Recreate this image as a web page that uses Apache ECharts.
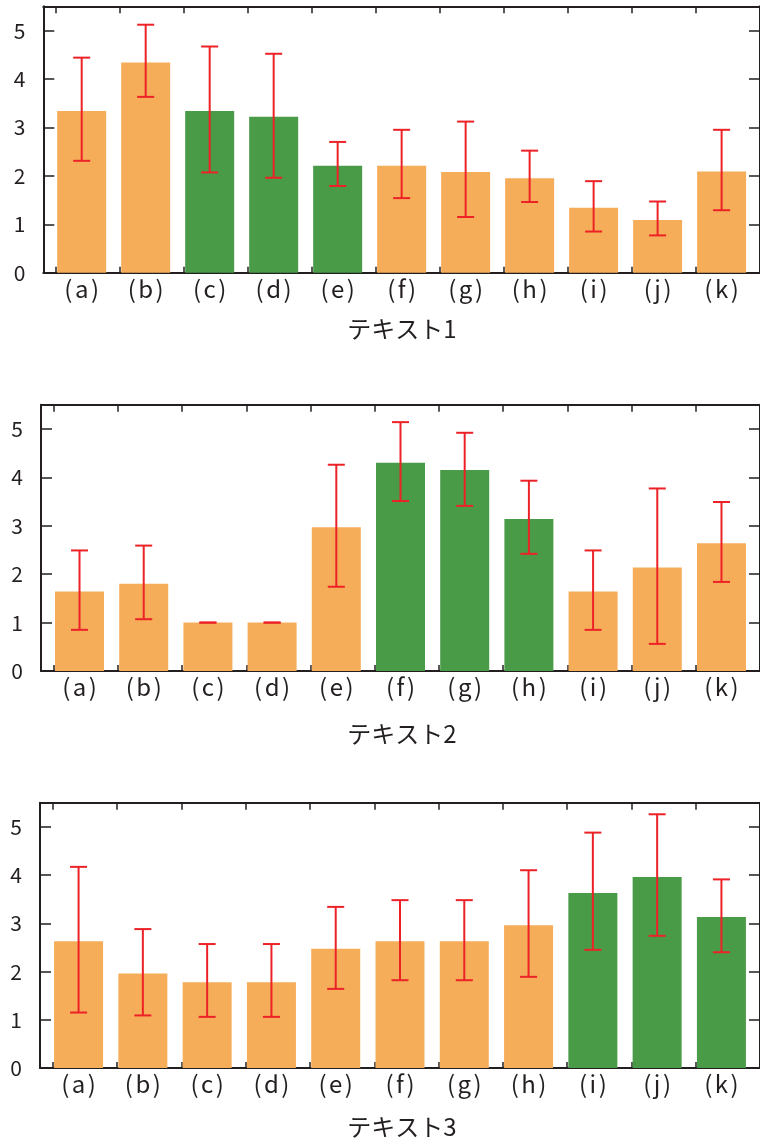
<!DOCTYPE html>
<html>
<head>
<meta charset="utf-8">
<script src="https://cdn.jsdelivr.net/npm/echarts@6/dist/echarts.min.js"></script>
<style>
  html, body { margin: 0; padding: 0; background: #ffffff; }
  #chart { width: 760px; height: 1144px; }
</style>
</head>
<body>
<div id="chart"></div>
<script>
// Categories and axis ticks
const categories = ['(a)', '(b)', '(c)', '(d)', '(e)', '(f)', '(g)', '(h)', '(i)', '(j)', '(k)'];
const yTickValues = [0, 1, 2, 3, 4, 5];
const panelTitles = ['テキスト1', 'テキスト2', 'テキスト3'];

// Panel 1: means, lower and upper error limits, highlighted (green) items
const mean1 = [3.34, 4.34, 3.34, 3.22, 2.21, 2.21, 2.08, 1.95, 1.34, 1.09, 2.09];
const low1  = [2.31, 3.63, 2.07, 1.96, 1.79, 1.54, 1.15, 1.46, 0.85, 0.77, 1.29];
const high1 = [4.44, 5.12, 4.67, 4.52, 2.70, 2.95, 3.12, 2.52, 1.89, 1.47, 2.95];
const green1 = [2, 3, 4];

// Panel 2
const mean2 = [1.64, 1.80, 1.00, 1.00, 2.97, 4.30, 4.15, 3.14, 1.64, 2.14, 2.64];
const low2  = [0.85, 1.07, 1.00, 1.00, 1.74, 3.51, 3.41, 2.42, 0.85, 0.56, 1.84];
const high2 = [2.49, 2.59, 1.00, 1.00, 4.26, 5.14, 4.92, 3.93, 2.49, 3.77, 3.49];
const green2 = [5, 6, 7];

// Panel 3
const mean3 = [2.63, 1.96, 1.78, 1.78, 2.47, 2.63, 2.63, 2.96, 3.63, 3.96, 3.13];
const low3  = [1.15, 1.09, 1.06, 1.06, 1.64, 1.82, 1.82, 1.89, 2.45, 2.74, 2.40];
const high3 = [4.17, 2.88, 2.57, 2.57, 3.34, 3.48, 3.48, 4.10, 4.88, 5.26, 3.91];
const green3 = [8, 9, 10];

const panelData = [
  { mean: mean1, low: low1, high: high1, green: green1 },
  { mean: mean2, low: low2, high: high2, green: green2 },
  { mean: mean3, low: low3, high: high3, green: green3 }
];

// Layout and style
const panelBoxes = [
  { left: 43.3, top: 6.3,   height: 266.4, titleTop: 312 },
  { left: 41.0, top: 404.7, height: 266.3, titleTop: 717 },
  { left: 40.0, top: 802.7, height: 265.3, titleTop: 1110 }
];
const PLOT_WIDTH = 722.1;
const X_MIN = -0.6, X_MAX = 10.6, TICK_SHIFT = 0.4;
const Y_MIN = 0, Y_MAX = 5.5;
const ORANGE = '#f6ad5a';
const GREEN = '#4a9b47';
const RED = '#ec2227';
const INK = '#231f20';
const FONT = '"Noto Sans CJK JP", "Noto Sans", sans-serif';
const BAR_WIDTH = 49;
const CAP_WIDTH = 17;
const LABEL_SIZE = 24;

const boundaryTicks = categories.map((_, i) => i - TICK_SHIFT).concat([categories.length - TICK_SHIFT]);
const labelValues = categories.map((_, i) => i);

// Category label: parentheses set slightly apart from the letter
const labelRich = {
  p: { color: INK, fontSize: LABEL_SIZE, fontFamily: FONT, padding: [0, 2.5, 0, 2.5] },
  m: { color: INK, fontSize: LABEL_SIZE, fontFamily: FONT }
};
function formatCategory(v) {
  const s = categories[Math.round(v)];
  if (!s) return '';
  return '{p|' + s.charAt(0) + '}{m|' + s.slice(1, -1) + '}{p|' + s.charAt(s.length - 1) + '}';
}

const grids = [], xAxes = [], yAxes = [], series = [], titles = [];

panelData.forEach((p, k) => {
  const box = panelBoxes[k];
  grids.push({ left: box.left, top: box.top, width: PLOT_WIDTH, height: box.height, containLabel: false });

  const frameLine = { show: true, onZero: false, lineStyle: { color: INK, width: 2 } };

  // bottom x axis with category labels
  xAxes.push({
    type: 'value', gridIndex: k, position: 'bottom', min: X_MIN, max: X_MAX,
    axisLine: frameLine,
    axisTick: { show: true, inside: true, length: 6, customValues: boundaryTicks, lineStyle: { color: INK, width: 1.5 } },
    axisLabel: {
      show: true, customValues: labelValues, margin: 4,
      formatter: formatCategory, rich: labelRich,
      color: INK, fontSize: LABEL_SIZE, fontFamily: FONT
    },
    splitLine: { show: false }
  });
  // top x axis (frame)
  xAxes.push({
    type: 'value', gridIndex: k, position: 'top', min: X_MIN, max: X_MAX,
    axisLine: frameLine,
    axisTick: { show: true, inside: true, length: 7, customValues: boundaryTicks, lineStyle: { color: INK, width: 1.5 } },
    axisLabel: { show: false },
    splitLine: { show: false }
  });
  // left y axis
  yAxes.push({
    type: 'value', gridIndex: k, position: 'left', min: Y_MIN, max: Y_MAX, interval: 1,
    axisLine: frameLine,
    axisTick: { show: true, inside: true, length: 11, customValues: yTickValues, lineStyle: { color: INK, width: 1.5 } },
    axisLabel: { show: true, customValues: yTickValues, margin: 18, color: INK, fontSize: 21, fontFamily: FONT },
    splitLine: { show: false }
  });
  // right y axis (frame)
  yAxes.push({
    type: 'value', gridIndex: k, position: 'right', min: Y_MIN, max: Y_MAX, interval: 1,
    axisLine: frameLine,
    axisTick: { show: true, inside: true, length: 11, customValues: yTickValues, lineStyle: { color: INK, width: 1.5 } },
    axisLabel: { show: false },
    splitLine: { show: false }
  });

  const xi = k * 2, yi = k * 2;
  series.push({
    type: 'bar', xAxisIndex: xi, yAxisIndex: yi, barWidth: BAR_WIDTH, silent: true,
    data: p.mean.map((v, i) => ({
      value: [i, v],
      itemStyle: { color: p.green.includes(i) ? GREEN : ORANGE }
    })),
    z: 2
  });
  series.push({
    type: 'custom', xAxisIndex: xi, yAxisIndex: yi, silent: true, z: 3,
    data: p.mean.map((_, i) => [i, p.low[i], p.high[i]]),
    encode: { x: 0, y: [1, 2] },
    renderItem: (params, api) => {
      const x = api.value(0);
      const lo = api.coord([x, api.value(1)]);
      const hi = api.coord([x, api.value(2)]);
      const h = CAP_WIDTH / 2;
      const st = { stroke: RED, lineWidth: 2 };
      return {
        type: 'group',
        children: [
          { type: 'line', shape: { x1: lo[0], y1: lo[1], x2: hi[0], y2: hi[1] }, style: st },
          { type: 'line', shape: { x1: hi[0] - h, y1: hi[1], x2: hi[0] + h, y2: hi[1] }, style: st },
          { type: 'line', shape: { x1: lo[0] - h, y1: lo[1], x2: lo[0] + h, y2: lo[1] }, style: st }
        ]
      };
    }
  });

  titles.push({
    text: panelTitles[k], left: 397, top: box.titleTop, textAlign: 'center',
    textStyle: { color: INK, fontSize: 24, fontWeight: 'normal', fontFamily: FONT }
  });
});

const chart = echarts.init(document.getElementById('chart'), null, { renderer: 'canvas' });
chart.setOption({
  animation: false,
  backgroundColor: '#ffffff',
  title: titles,
  grid: grids,
  xAxis: xAxes,
  yAxis: yAxes,
  series: series
});
</script>
</body>
</html>
